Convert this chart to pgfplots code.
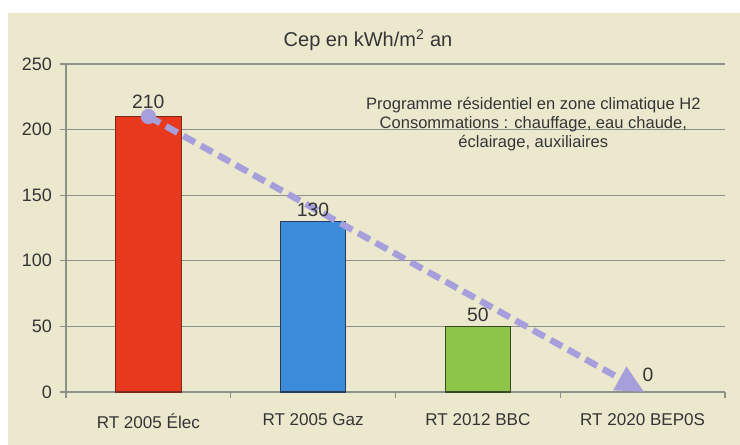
\documentclass[border=0pt]{standalone}
\usepackage{fontspec}
\setmainfont{Liberation Sans}
\usepackage{pgfplots}
\pgfplotsset{compat=1.18}
\usetikzlibrary{arrows.meta}
\definecolor{bg}{HTML}{EBE8CE}
\definecolor{gridc}{HTML}{8C918A}
\definecolor{txt}{HTML}{353535}
\definecolor{redc}{HTML}{E8391F}
\definecolor{redd}{HTML}{7A2A1A}
\definecolor{bluec}{HTML}{3D8BDB}
\definecolor{blued}{HTML}{2A3A5A}
\definecolor{greenc}{HTML}{8DC54A}
\definecolor{greend}{HTML}{3A4A20}
\definecolor{lav}{HTML}{A79FDC}
\begin{document}
\begin{tikzpicture}
\fill[white] (0,0) rectangle (555pt,333.75pt);
\fill[bg] (6pt,0) rectangle (555pt,324pt);
\begin{axis}[
  at={(49.5pt,39.75pt)}, anchor=south west,
  scale only axis, width=494.25pt, height=246pt,
  xmin=-0.5, xmax=3.5, ymin=0, ymax=250,
  clip=false,
  axis x line*=bottom, axis y line*=left,
  axis line style={gridc, line width=1pt, -},
  ytick={0,50,...,250},
  minor ytick={0,50,...,250},
  xtick={0,1,2,3},
  xticklabels={RT 2005 Élec, RT 2005 Gaz, RT 2012 BBC, RT 2020 BEP0S},
  minor xtick={-0.5,0.5,1.5,2.5,3.5},
  ymajorgrids, major grid style={gridc, line width=1pt},
  tick style={gridc, line width=1pt},
  major tick length=0pt, minor tick length=4.5pt,
  tick align=outside,
  /pgf/number format/assume math mode=true,
  yticklabel style={font=\fontsize{13.5}{16}\selectfont, text=txt, xshift=-7pt},
  xticklabel style={font=\fontsize{12.8}{15}\selectfont, text=txt, yshift=-13pt},
  every node near coord/.append style={font=\fontsize{14.5}{17}\selectfont, text=txt, /pgf/number format/assume math mode=true},
]
\addplot[ybar, bar width=49pt, fill=redc, draw=redd, line width=0.8pt, nodes near coords, every node near coord/.append style={yshift=2pt}] coordinates {(0,210)};
\addplot[ybar, bar width=49pt, fill=bluec, draw=blued, line width=0.8pt, nodes near coords] coordinates {(1,130)};
\addplot[ybar, bar width=49pt, fill=greenc, draw=greend, line width=0.8pt, nodes near coords] coordinates {(2,50)};
\addplot[ybar, bar width=49pt, draw=none, fill=none, nodes near coords, every node near coord/.append style={xshift=4pt, yshift=4pt}] coordinates {(3,0)};
\addplot[lav, line width=4.8pt, dash pattern=on 10pt off 5pt, -{Triangle[length=21pt,width=19pt]}] coordinates {(0,210) (3.01,0)};
\addplot[lav, only marks, mark=*, mark size=5.5pt, mark options={draw=lav, fill=lav}] coordinates {(0,210)};
\end{axis}
\node[text=txt, font=\fontsize{15}{17}\selectfont] at (276pt,303.75pt) {Cep en kWh/m\textsuperscript{2} an};
\node[text=txt, align=center, font=\fontsize{12.4}{14.25}\selectfont] at (400pt,240.75pt)
  {Programme résidentiel en zone climatique H2\\Consommations : chauffage, eau chaude,\\éclairage, auxiliaires};
\end{tikzpicture}
\end{document}
